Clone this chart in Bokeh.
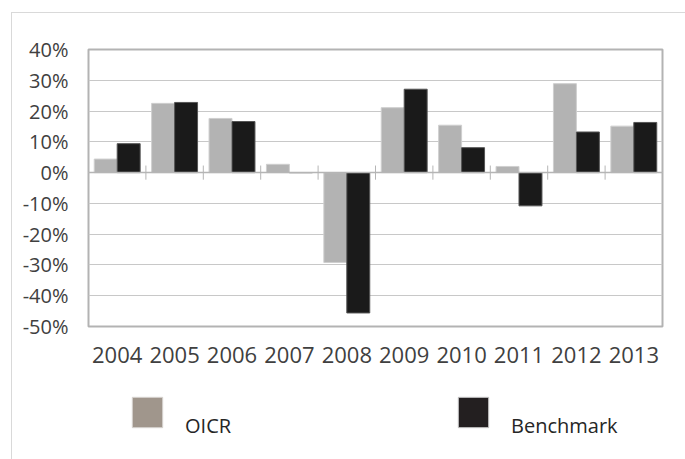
from bokeh.plotting import figure
from bokeh.layouts import column
from bokeh.models import (ColumnDataSource, FactorRange, FixedTicker, PrintfTickFormatter,
                          Span, Legend, LegendItem, Range1d)
from bokeh.transform import dodge
from bokeh.embed import file_html
from bokeh.resources import INLINE

years = ["2004", "2005", "2006", "2007", "2008", "2009", "2010", "2011", "2012", "2013"]
oicr = [4.4, 22.5, 17.6, 2.7, -29.2, 21.1, 15.4, 2.0, 28.9, 15.1]
benchmark = [9.4, 22.8, 16.6, 0.0, -45.6, 27.1, 8.1, -10.8, 13.2, 16.3]
y_ticks = [-50, -40, -30, -20, -10, 0, 10, 20, 30, 40]
series_names = ["OICR", "Benchmark"]

src = ColumnDataSource(data=dict(year=years, oicr=oicr, benchmark=benchmark))
bnd = ColumnDataSource(data=dict(year=years[:-1], lo=[-2.3] * 9, hi=[2.3] * 9))

p = figure(width=673, height=373, x_range=FactorRange(factors=years, range_padding=0),
           y_range=(y_ticks[0], y_ticks[-1]), output_backend="svg", toolbar_location=None,
           min_border_left=76, min_border_top=36, min_border_right=23, min_border_bottom=60)

p.outline_line_color = "#b3b3b3"
p.outline_line_width = 2
p.xgrid.grid_line_color = None
p.ygrid.grid_line_color = "#c8c8c8"
p.ygrid.grid_line_width = 1

p.yaxis.ticker = FixedTicker(ticks=y_ticks)
p.yaxis.formatter = PrintfTickFormatter(format="%d%%")
for ax in (p.xaxis[0], p.yaxis[0]):
    ax.axis_line_color = None
    ax.major_tick_line_color = None
    ax.minor_tick_line_color = None
    ax.major_tick_out = 0
    ax.major_tick_in = 0
    ax.major_label_text_font = "Open Sans"
    ax.major_label_text_color = "#404040"
p.yaxis.major_label_text_font_size = "20px"
p.yaxis.major_label_standoff = 20
p.xaxis.major_label_text_font_size = "22px"
p.xaxis.major_label_standoff = 20

p.vbar(x=dodge("year", -0.2, range=p.x_range), top="oicr", width=0.4, source=src,
       fill_color="#b3b3b3", line_color="#cfcfcf", line_width=1)
p.vbar(x=dodge("year", 0.2, range=p.x_range), top="benchmark", width=0.4, source=src,
       fill_color="#1a1a1a", line_color="#555555", line_width=1)

p.add_layout(Span(location=0, dimension="width", line_color="#b5b5b5", line_width=1.5))
p.segment(x0=dodge("year", 0.5, range=p.x_range), x1=dodge("year", 0.5, range=p.x_range),
          y0="lo", y1="hi", source=bnd, line_color="#b5b5b5", line_width=1)

# legend strip: proxies use the same data, but the strip's y range shows none of it
q = figure(width=673, height=73, x_range=p.x_range, y_range=Range1d(1000, 1001),
           output_backend="svg", toolbar_location=None, min_border=0)
q.axis.visible = False
q.grid.grid_line_color = None
q.outline_line_color = None

r1 = q.vbar(x="year", top="oicr", width=0.4, source=src,
            fill_color="#a0968c", line_color="#d8d4d0")
r2 = q.vbar(x="year", top="benchmark", width=0.4, source=src,
            fill_color="#231f20", line_color="#c8c8c8")

lg = Legend(items=[LegendItem(label="\n" + series_names[0], renderers=[r1]),
                   LegendItem(label="\n" + series_names[1], renderers=[r2])],
            location=(40, 20), orientation="horizontal", glyph_width=38, glyph_height=38,
            label_standoff=19, label_width=60, label_height=46, spacing=209,
            padding=0, margin=0, border_line_color=None, background_fill_alpha=0,
            label_text_font="Open Sans", label_text_font_size="20px",
            label_text_line_height=0.6, label_text_color="#262626")
q.add_layout(lg)

layout = column(p, q, spacing=0)
layout.margin = (12, 0, 0, 11)
layout.styles = {"border-left": "1px solid #d9d9d9", "border-top": "1px solid #d9d9d9"}

open("out.html", "w").write(file_html(layout, INLINE))
